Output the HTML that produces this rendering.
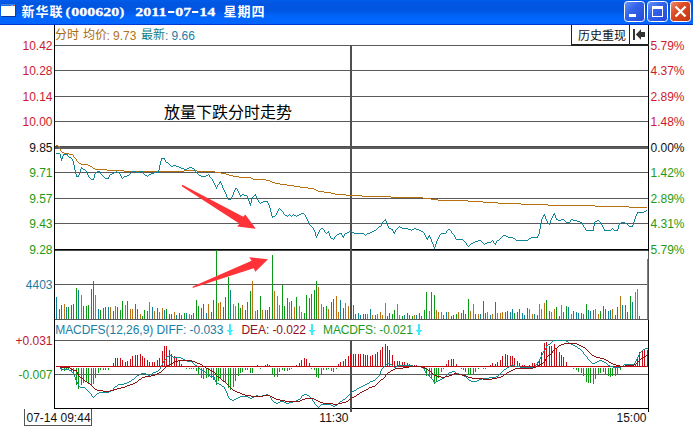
<!DOCTYPE html>
<html><head><meta charset="utf-8"><title>chart</title>
<style>
html,body{margin:0;padding:0;background:#fff;}
body{width:693px;height:427px;overflow:hidden;position:relative;font-family:"Liberation Sans", sans-serif;}
#tb{position:absolute;left:0;top:0;width:693px;height:25px;
background:linear-gradient(to bottom,#005ce8 0px,#005ce8 1px,#0055e1 3px,#0055e1 10px,#0062f5 15px,#0066ff 18px,#0066ff 23.5px,#0038d0 24px,#0038d0 25px);}
svg{position:absolute;left:0;top:0;}
text{white-space:pre;}
</style></head><body>
<div id="tb"></div>
<svg width="693" height="427" viewBox="0 0 693 427">
<defs>
<linearGradient id="gb" x1="0" y1="0" x2="1" y2="1"><stop offset="0" stop-color="#6a98f8"/><stop offset="0.4" stop-color="#3364ea"/><stop offset="1" stop-color="#2349d6"/></linearGradient>
<linearGradient id="gc" x1="0" y1="0" x2="1" y2="1"><stop offset="0" stop-color="#ee9070"/><stop offset="0.4" stop-color="#dc4a24"/><stop offset="1" stop-color="#c23410"/></linearGradient>
</defs>
<g shape-rendering="crispEdges">
<rect x="54" y="45" width="594" height="1" fill="#5a5a5a"/>
<rect x="54" y="70" width="594" height="1" fill="#5a5a5a"/>
<rect x="54" y="96" width="594" height="1" fill="#5a5a5a"/>
<rect x="54" y="121" width="594" height="1" fill="#5a5a5a"/>
<rect x="54" y="172" width="594" height="1" fill="#5a5a5a"/>
<rect x="54" y="198" width="594" height="1" fill="#5a5a5a"/>
<rect x="54" y="223" width="594" height="1" fill="#5a5a5a"/>
<rect x="54" y="146" width="595" height="3" fill="#5c5c5c"/>
<rect x="54" y="146" width="595" height="1" fill="#4e4e4e"/>
<rect x="54" y="249" width="595" height="1" fill="#000000"/>
<rect x="54" y="250" width="595" height="1" fill="#4a4a4a"/>
<rect x="54" y="284" width="594" height="1" fill="#5a5a5a"/>
<rect x="54" y="319" width="595" height="1" fill="#585858"/>
<rect x="54" y="340" width="594" height="1" fill="#5a5a5a"/>
<rect x="54" y="374" width="594" height="1" fill="#5a5a5a"/>
<rect x="54" y="408" width="595" height="1" fill="#000000"/>
<rect x="350" y="45" width="2" height="275" fill="#505050"/>
<rect x="350" y="340" width="2" height="72" fill="#505050"/>
<rect x="54" y="25" width="1" height="384" fill="#000000"/>
<rect x="648" y="25" width="1" height="226" fill="#000000"/>
<rect x="648" y="251" width="1" height="69" fill="#585858"/>
<rect x="648" y="320" width="1" height="92" fill="#000000"/>
<rect x="56" y="297" width="1" height="22" fill="#0d849a"/>
<rect x="59" y="309" width="1" height="10" fill="#0d849a"/>
<rect x="61" y="305" width="1" height="14" fill="#0c9a16"/>
<rect x="64" y="304" width="1" height="15" fill="#bc7212"/>
<rect x="66" y="307" width="1" height="12" fill="#0d849a"/>
<rect x="68" y="307" width="1" height="12" fill="#0c9a16"/>
<rect x="71" y="305" width="1" height="14" fill="#0c9a16"/>
<rect x="73" y="304" width="1" height="15" fill="#0c9a16"/>
<rect x="76" y="288" width="1" height="31" fill="#0c9a16"/>
<rect x="78" y="290" width="1" height="29" fill="#0d849a"/>
<rect x="81" y="295" width="1" height="24" fill="#bc7212"/>
<rect x="83" y="306" width="1" height="13" fill="#0c9a16"/>
<rect x="86" y="306" width="1" height="13" fill="#0c9a16"/>
<rect x="88" y="305" width="1" height="14" fill="#0c9a16"/>
<rect x="91" y="289" width="1" height="30" fill="#0c9a16"/>
<rect x="93" y="281" width="1" height="38" fill="#0d849a"/>
<rect x="95" y="295" width="1" height="24" fill="#bc7212"/>
<rect x="98" y="309" width="1" height="10" fill="#0d849a"/>
<rect x="100" y="310" width="1" height="9" fill="#0c9a16"/>
<rect x="103" y="308" width="1" height="11" fill="#0c9a16"/>
<rect x="105" y="307" width="1" height="12" fill="#0c9a16"/>
<rect x="108" y="307" width="1" height="12" fill="#0d849a"/>
<rect x="110" y="307" width="1" height="12" fill="#bc7212"/>
<rect x="113" y="311" width="1" height="8" fill="#0d849a"/>
<rect x="115" y="306" width="1" height="13" fill="#bc7212"/>
<rect x="117" y="307" width="1" height="12" fill="#0c9a16"/>
<rect x="120" y="310" width="1" height="9" fill="#0c9a16"/>
<rect x="122" y="301" width="1" height="18" fill="#0c9a16"/>
<rect x="125" y="305" width="1" height="14" fill="#bc7212"/>
<rect x="127" y="301" width="1" height="18" fill="#0d849a"/>
<rect x="130" y="309" width="1" height="10" fill="#bc7212"/>
<rect x="132" y="309" width="1" height="10" fill="#bc7212"/>
<rect x="135" y="304" width="1" height="15" fill="#0d849a"/>
<rect x="137" y="309" width="1" height="10" fill="#0c9a16"/>
<rect x="140" y="314" width="1" height="5" fill="#bc7212"/>
<rect x="142" y="316" width="1" height="3" fill="#0c9a16"/>
<rect x="144" y="310" width="1" height="9" fill="#0c9a16"/>
<rect x="147" y="311" width="1" height="8" fill="#0c9a16"/>
<rect x="149" y="302" width="1" height="17" fill="#bc7212"/>
<rect x="152" y="307" width="1" height="12" fill="#0d849a"/>
<rect x="154" y="311" width="1" height="8" fill="#bc7212"/>
<rect x="157" y="308" width="1" height="11" fill="#0d849a"/>
<rect x="159" y="312" width="1" height="7" fill="#bc7212"/>
<rect x="162" y="308" width="1" height="11" fill="#bc7212"/>
<rect x="164" y="310" width="1" height="9" fill="#0d849a"/>
<rect x="166" y="309" width="1" height="10" fill="#0c9a16"/>
<rect x="169" y="314" width="1" height="5" fill="#0c9a16"/>
<rect x="171" y="314" width="1" height="5" fill="#0c9a16"/>
<rect x="174" y="312" width="1" height="7" fill="#bc7212"/>
<rect x="176" y="315" width="1" height="4" fill="#0d849a"/>
<rect x="179" y="313" width="1" height="6" fill="#0c9a16"/>
<rect x="181" y="315" width="1" height="4" fill="#0d849a"/>
<rect x="184" y="313" width="1" height="6" fill="#0c9a16"/>
<rect x="186" y="313" width="1" height="6" fill="#0d849a"/>
<rect x="189" y="314" width="1" height="5" fill="#bc7212"/>
<rect x="191" y="315" width="1" height="4" fill="#0d849a"/>
<rect x="193" y="313" width="1" height="6" fill="#0c9a16"/>
<rect x="196" y="300" width="1" height="19" fill="#0c9a16"/>
<rect x="198" y="306" width="1" height="13" fill="#0c9a16"/>
<rect x="201" y="308" width="1" height="11" fill="#0c9a16"/>
<rect x="203" y="304" width="1" height="15" fill="#0d849a"/>
<rect x="206" y="313" width="1" height="6" fill="#0d849a"/>
<rect x="208" y="304" width="1" height="15" fill="#bc7212"/>
<rect x="211" y="312" width="1" height="7" fill="#0c9a16"/>
<rect x="213" y="300" width="1" height="19" fill="#0c9a16"/>
<rect x="216" y="250" width="1" height="69" fill="#0c9a16"/>
<rect x="218" y="303" width="1" height="16" fill="#bc7212"/>
<rect x="220" y="302" width="1" height="17" fill="#bc7212"/>
<rect x="223" y="307" width="1" height="12" fill="#0c9a16"/>
<rect x="225" y="297" width="1" height="22" fill="#0c9a16"/>
<rect x="228" y="277" width="1" height="42" fill="#0c9a16"/>
<rect x="230" y="290" width="1" height="29" fill="#0d849a"/>
<rect x="233" y="304" width="1" height="15" fill="#bc7212"/>
<rect x="235" y="306" width="1" height="13" fill="#bc7212"/>
<rect x="238" y="303" width="1" height="16" fill="#0c9a16"/>
<rect x="240" y="308" width="1" height="11" fill="#0c9a16"/>
<rect x="242" y="305" width="1" height="14" fill="#bc7212"/>
<rect x="245" y="310" width="1" height="9" fill="#0c9a16"/>
<rect x="247" y="302" width="1" height="17" fill="#0d849a"/>
<rect x="250" y="291" width="1" height="28" fill="#0c9a16"/>
<rect x="252" y="281" width="1" height="38" fill="#bc7212"/>
<rect x="255" y="311" width="1" height="8" fill="#bc7212"/>
<rect x="257" y="310" width="1" height="9" fill="#0c9a16"/>
<rect x="260" y="296" width="1" height="23" fill="#0c9a16"/>
<rect x="262" y="310" width="1" height="9" fill="#bc7212"/>
<rect x="265" y="310" width="1" height="9" fill="#0d849a"/>
<rect x="267" y="310" width="1" height="9" fill="#0d849a"/>
<rect x="269" y="307" width="1" height="12" fill="#0c9a16"/>
<rect x="272" y="255" width="1" height="64" fill="#0c9a16"/>
<rect x="274" y="291" width="1" height="28" fill="#bc7212"/>
<rect x="277" y="296" width="1" height="23" fill="#bc7212"/>
<rect x="279" y="305" width="1" height="14" fill="#bc7212"/>
<rect x="282" y="285" width="1" height="34" fill="#0c9a16"/>
<rect x="284" y="306" width="1" height="13" fill="#0c9a16"/>
<rect x="287" y="298" width="1" height="21" fill="#0c9a16"/>
<rect x="289" y="302" width="1" height="17" fill="#bc7212"/>
<rect x="291" y="301" width="1" height="18" fill="#0c9a16"/>
<rect x="294" y="307" width="1" height="12" fill="#bc7212"/>
<rect x="296" y="297" width="1" height="22" fill="#0c9a16"/>
<rect x="299" y="306" width="1" height="13" fill="#bc7212"/>
<rect x="301" y="312" width="1" height="7" fill="#bc7212"/>
<rect x="304" y="313" width="1" height="6" fill="#0c9a16"/>
<rect x="306" y="295" width="1" height="24" fill="#0c9a16"/>
<rect x="309" y="298" width="1" height="21" fill="#0c9a16"/>
<rect x="311" y="294" width="1" height="25" fill="#0c9a16"/>
<rect x="314" y="290" width="1" height="29" fill="#0c9a16"/>
<rect x="316" y="281" width="1" height="38" fill="#0c9a16"/>
<rect x="318" y="287" width="1" height="32" fill="#bc7212"/>
<rect x="321" y="304" width="1" height="15" fill="#bc7212"/>
<rect x="323" y="307" width="1" height="12" fill="#0d849a"/>
<rect x="326" y="306" width="1" height="13" fill="#0c9a16"/>
<rect x="328" y="309" width="1" height="10" fill="#bc7212"/>
<rect x="331" y="302" width="1" height="17" fill="#0c9a16"/>
<rect x="333" y="299" width="1" height="20" fill="#0d849a"/>
<rect x="336" y="296" width="1" height="23" fill="#bc7212"/>
<rect x="338" y="312" width="1" height="7" fill="#bc7212"/>
<rect x="340" y="300" width="1" height="19" fill="#0d849a"/>
<rect x="343" y="308" width="1" height="11" fill="#0c9a16"/>
<rect x="345" y="303" width="1" height="16" fill="#bc7212"/>
<rect x="348" y="306" width="1" height="13" fill="#bc7212"/>
<rect x="353" y="305" width="1" height="14" fill="#0c9a16"/>
<rect x="355" y="314" width="1" height="5" fill="#0d849a"/>
<rect x="358" y="313" width="1" height="6" fill="#0d849a"/>
<rect x="360" y="315" width="1" height="4" fill="#0d849a"/>
<rect x="363" y="314" width="1" height="5" fill="#0d849a"/>
<rect x="365" y="314" width="1" height="5" fill="#0c9a16"/>
<rect x="367" y="314" width="1" height="5" fill="#bc7212"/>
<rect x="370" y="309" width="1" height="10" fill="#0d849a"/>
<rect x="372" y="315" width="1" height="4" fill="#bc7212"/>
<rect x="375" y="315" width="1" height="4" fill="#0d849a"/>
<rect x="377" y="314" width="1" height="5" fill="#bc7212"/>
<rect x="380" y="312" width="1" height="7" fill="#bc7212"/>
<rect x="382" y="315" width="1" height="4" fill="#bc7212"/>
<rect x="385" y="303" width="1" height="16" fill="#bc7212"/>
<rect x="387" y="316" width="1" height="3" fill="#0c9a16"/>
<rect x="389" y="313" width="1" height="6" fill="#0c9a16"/>
<rect x="392" y="314" width="1" height="5" fill="#0c9a16"/>
<rect x="394" y="310" width="1" height="9" fill="#0c9a16"/>
<rect x="397" y="304" width="1" height="15" fill="#bc7212"/>
<rect x="399" y="315" width="1" height="4" fill="#bc7212"/>
<rect x="402" y="316" width="1" height="3" fill="#0c9a16"/>
<rect x="404" y="315" width="1" height="4" fill="#0d849a"/>
<rect x="407" y="313" width="1" height="6" fill="#0d849a"/>
<rect x="409" y="315" width="1" height="4" fill="#0d849a"/>
<rect x="412" y="316" width="1" height="3" fill="#0c9a16"/>
<rect x="414" y="315" width="1" height="4" fill="#bc7212"/>
<rect x="416" y="315" width="1" height="4" fill="#0d849a"/>
<rect x="419" y="313" width="1" height="6" fill="#0c9a16"/>
<rect x="421" y="316" width="1" height="3" fill="#0c9a16"/>
<rect x="424" y="310" width="1" height="9" fill="#0c9a16"/>
<rect x="426" y="292" width="1" height="27" fill="#0c9a16"/>
<rect x="429" y="311" width="1" height="8" fill="#bc7212"/>
<rect x="431" y="292" width="1" height="27" fill="#0c9a16"/>
<rect x="434" y="295" width="1" height="24" fill="#0c9a16"/>
<rect x="436" y="310" width="1" height="9" fill="#bc7212"/>
<rect x="438" y="312" width="1" height="7" fill="#bc7212"/>
<rect x="441" y="312" width="1" height="7" fill="#bc7212"/>
<rect x="443" y="315" width="1" height="4" fill="#0d849a"/>
<rect x="446" y="312" width="1" height="7" fill="#0d849a"/>
<rect x="448" y="312" width="1" height="7" fill="#bc7212"/>
<rect x="451" y="316" width="1" height="3" fill="#0c9a16"/>
<rect x="453" y="315" width="1" height="4" fill="#0c9a16"/>
<rect x="456" y="314" width="1" height="5" fill="#0c9a16"/>
<rect x="458" y="312" width="1" height="7" fill="#bc7212"/>
<rect x="461" y="313" width="1" height="6" fill="#0d849a"/>
<rect x="463" y="310" width="1" height="9" fill="#0c9a16"/>
<rect x="465" y="314" width="1" height="5" fill="#0c9a16"/>
<rect x="468" y="299" width="1" height="20" fill="#0c9a16"/>
<rect x="470" y="311" width="1" height="8" fill="#bc7212"/>
<rect x="473" y="304" width="1" height="15" fill="#bc7212"/>
<rect x="475" y="314" width="1" height="5" fill="#0d849a"/>
<rect x="478" y="314" width="1" height="5" fill="#bc7212"/>
<rect x="480" y="314" width="1" height="5" fill="#0d849a"/>
<rect x="483" y="301" width="1" height="18" fill="#0c9a16"/>
<rect x="485" y="313" width="1" height="6" fill="#0d849a"/>
<rect x="487" y="312" width="1" height="7" fill="#bc7212"/>
<rect x="490" y="315" width="1" height="4" fill="#0d849a"/>
<rect x="492" y="314" width="1" height="5" fill="#bc7212"/>
<rect x="495" y="302" width="1" height="17" fill="#0c9a16"/>
<rect x="497" y="313" width="1" height="6" fill="#bc7212"/>
<rect x="500" y="313" width="1" height="6" fill="#bc7212"/>
<rect x="502" y="312" width="1" height="7" fill="#bc7212"/>
<rect x="505" y="312" width="1" height="7" fill="#0d849a"/>
<rect x="507" y="311" width="1" height="8" fill="#0c9a16"/>
<rect x="510" y="312" width="1" height="7" fill="#0d849a"/>
<rect x="512" y="309" width="1" height="10" fill="#0d849a"/>
<rect x="514" y="313" width="1" height="6" fill="#0c9a16"/>
<rect x="517" y="312" width="1" height="7" fill="#0c9a16"/>
<rect x="519" y="309" width="1" height="10" fill="#0d849a"/>
<rect x="522" y="313" width="1" height="6" fill="#0d849a"/>
<rect x="524" y="315" width="1" height="4" fill="#0d849a"/>
<rect x="527" y="308" width="1" height="11" fill="#0d849a"/>
<rect x="529" y="309" width="1" height="10" fill="#bc7212"/>
<rect x="532" y="314" width="1" height="5" fill="#bc7212"/>
<rect x="534" y="314" width="1" height="5" fill="#0d849a"/>
<rect x="537" y="315" width="1" height="4" fill="#0d849a"/>
<rect x="539" y="304" width="1" height="15" fill="#bc7212"/>
<rect x="541" y="309" width="1" height="10" fill="#bc7212"/>
<rect x="544" y="303" width="1" height="16" fill="#bc7212"/>
<rect x="546" y="300" width="1" height="19" fill="#0c9a16"/>
<rect x="549" y="311" width="1" height="8" fill="#0c9a16"/>
<rect x="551" y="312" width="1" height="7" fill="#bc7212"/>
<rect x="554" y="309" width="1" height="10" fill="#bc7212"/>
<rect x="556" y="307" width="1" height="12" fill="#0c9a16"/>
<rect x="559" y="316" width="1" height="3" fill="#0c9a16"/>
<rect x="561" y="305" width="1" height="14" fill="#bc7212"/>
<rect x="563" y="312" width="1" height="7" fill="#0d849a"/>
<rect x="566" y="306" width="1" height="13" fill="#0c9a16"/>
<rect x="568" y="307" width="1" height="12" fill="#0d849a"/>
<rect x="571" y="314" width="1" height="5" fill="#bc7212"/>
<rect x="573" y="311" width="1" height="8" fill="#0c9a16"/>
<rect x="576" y="312" width="1" height="7" fill="#0d849a"/>
<rect x="578" y="313" width="1" height="6" fill="#0d849a"/>
<rect x="581" y="313" width="1" height="6" fill="#0c9a16"/>
<rect x="583" y="314" width="1" height="5" fill="#0c9a16"/>
<rect x="586" y="304" width="1" height="15" fill="#0c9a16"/>
<rect x="588" y="310" width="1" height="9" fill="#0d849a"/>
<rect x="590" y="311" width="1" height="8" fill="#0d849a"/>
<rect x="593" y="310" width="1" height="9" fill="#0d849a"/>
<rect x="595" y="309" width="1" height="10" fill="#bc7212"/>
<rect x="598" y="314" width="1" height="5" fill="#bc7212"/>
<rect x="600" y="311" width="1" height="8" fill="#0c9a16"/>
<rect x="603" y="306" width="1" height="13" fill="#0c9a16"/>
<rect x="605" y="309" width="1" height="10" fill="#0c9a16"/>
<rect x="608" y="311" width="1" height="8" fill="#0d849a"/>
<rect x="610" y="310" width="1" height="9" fill="#0d849a"/>
<rect x="612" y="309" width="1" height="10" fill="#bc7212"/>
<rect x="615" y="315" width="1" height="4" fill="#0c9a16"/>
<rect x="617" y="307" width="1" height="12" fill="#0d849a"/>
<rect x="620" y="296" width="1" height="23" fill="#bc7212"/>
<rect x="622" y="305" width="1" height="14" fill="#0d849a"/>
<rect x="625" y="305" width="1" height="14" fill="#0d849a"/>
<rect x="627" y="312" width="1" height="7" fill="#0c9a16"/>
<rect x="630" y="296" width="1" height="23" fill="#0c9a16"/>
<rect x="632" y="302" width="1" height="17" fill="#0d849a"/>
<rect x="635" y="292" width="1" height="27" fill="#bc7212"/>
<rect x="637" y="289" width="1" height="30" fill="#bc7212"/>
<rect x="639" y="316" width="1" height="3" fill="#0d849a"/>
<rect x="647" y="259" width="1" height="60" fill="#bc7212"/>
<rect x="61" y="368" width="1" height="3" fill="#0c9a16"/>
<rect x="64" y="368" width="1" height="3" fill="#0c9a16"/>
<rect x="66" y="368" width="1" height="2" fill="#0c9a16"/>
<rect x="68" y="368" width="1" height="2" fill="#0c9a16"/>
<rect x="71" y="368" width="1" height="4" fill="#0c9a16"/>
<rect x="73" y="368" width="1" height="5" fill="#0c9a16"/>
<rect x="76" y="368" width="1" height="17" fill="#0c9a16"/>
<rect x="78" y="368" width="1" height="21" fill="#0c9a16"/>
<rect x="81" y="368" width="1" height="17" fill="#0c9a16"/>
<rect x="83" y="368" width="1" height="15" fill="#0c9a16"/>
<rect x="86" y="368" width="1" height="14" fill="#0c9a16"/>
<rect x="88" y="368" width="1" height="15" fill="#0c9a16"/>
<rect x="91" y="368" width="1" height="17" fill="#0c9a16"/>
<rect x="93" y="368" width="1" height="16" fill="#0c9a16"/>
<rect x="95" y="368" width="1" height="10" fill="#0c9a16"/>
<rect x="98" y="368" width="1" height="5" fill="#0c9a16"/>
<rect x="100" y="368" width="1" height="2" fill="#0c9a16"/>
<rect x="103" y="368" width="1" height="2" fill="#0c9a16"/>
<rect x="105" y="368" width="1" height="2" fill="#0c9a16"/>
<rect x="108" y="368" width="1" height="2" fill="#0c9a16"/>
<rect x="113" y="363" width="1" height="4" fill="#c80c16"/>
<rect x="115" y="358" width="1" height="9" fill="#c80c16"/>
<rect x="117" y="358" width="1" height="9" fill="#c80c16"/>
<rect x="120" y="358" width="1" height="9" fill="#c80c16"/>
<rect x="122" y="360" width="1" height="7" fill="#c80c16"/>
<rect x="125" y="362" width="1" height="5" fill="#c80c16"/>
<rect x="127" y="361" width="1" height="6" fill="#c80c16"/>
<rect x="130" y="359" width="1" height="8" fill="#c80c16"/>
<rect x="132" y="356" width="1" height="11" fill="#c80c16"/>
<rect x="135" y="355" width="1" height="12" fill="#c80c16"/>
<rect x="137" y="355" width="1" height="12" fill="#c80c16"/>
<rect x="140" y="354" width="1" height="13" fill="#c80c16"/>
<rect x="142" y="356" width="1" height="11" fill="#c80c16"/>
<rect x="144" y="358" width="1" height="9" fill="#c80c16"/>
<rect x="147" y="360" width="1" height="7" fill="#c80c16"/>
<rect x="149" y="362" width="1" height="5" fill="#c80c16"/>
<rect x="152" y="362" width="1" height="5" fill="#c80c16"/>
<rect x="154" y="362" width="1" height="5" fill="#c80c16"/>
<rect x="157" y="360" width="1" height="7" fill="#c80c16"/>
<rect x="159" y="358" width="1" height="9" fill="#c80c16"/>
<rect x="162" y="351" width="1" height="16" fill="#c80c16"/>
<rect x="164" y="346" width="1" height="21" fill="#c80c16"/>
<rect x="166" y="346" width="1" height="21" fill="#c80c16"/>
<rect x="169" y="350" width="1" height="17" fill="#c80c16"/>
<rect x="171" y="354" width="1" height="13" fill="#c80c16"/>
<rect x="174" y="356" width="1" height="11" fill="#c80c16"/>
<rect x="176" y="358" width="1" height="9" fill="#c80c16"/>
<rect x="179" y="360" width="1" height="7" fill="#c80c16"/>
<rect x="181" y="364" width="1" height="3" fill="#c80c16"/>
<rect x="186" y="368" width="1" height="1" fill="#0c9a16"/>
<rect x="189" y="368" width="1" height="1" fill="#0c9a16"/>
<rect x="191" y="368" width="1" height="1" fill="#0c9a16"/>
<rect x="193" y="368" width="1" height="1" fill="#0c9a16"/>
<rect x="196" y="368" width="1" height="3" fill="#0c9a16"/>
<rect x="198" y="368" width="1" height="7" fill="#0c9a16"/>
<rect x="201" y="368" width="1" height="10" fill="#0c9a16"/>
<rect x="203" y="368" width="1" height="11" fill="#0c9a16"/>
<rect x="206" y="368" width="1" height="10" fill="#0c9a16"/>
<rect x="208" y="368" width="1" height="9" fill="#0c9a16"/>
<rect x="211" y="368" width="1" height="10" fill="#0c9a16"/>
<rect x="213" y="368" width="1" height="12" fill="#0c9a16"/>
<rect x="216" y="368" width="1" height="17" fill="#0c9a16"/>
<rect x="218" y="368" width="1" height="13" fill="#0c9a16"/>
<rect x="220" y="368" width="1" height="11" fill="#0c9a16"/>
<rect x="223" y="368" width="1" height="13" fill="#0c9a16"/>
<rect x="225" y="368" width="1" height="15" fill="#0c9a16"/>
<rect x="228" y="368" width="1" height="20" fill="#0c9a16"/>
<rect x="230" y="368" width="1" height="22" fill="#0c9a16"/>
<rect x="233" y="368" width="1" height="19" fill="#0c9a16"/>
<rect x="235" y="368" width="1" height="13" fill="#0c9a16"/>
<rect x="238" y="368" width="1" height="8" fill="#0c9a16"/>
<rect x="240" y="368" width="1" height="5" fill="#0c9a16"/>
<rect x="242" y="368" width="1" height="4" fill="#0c9a16"/>
<rect x="245" y="368" width="1" height="2" fill="#0c9a16"/>
<rect x="247" y="368" width="1" height="2" fill="#0c9a16"/>
<rect x="250" y="368" width="1" height="5" fill="#0c9a16"/>
<rect x="252" y="368" width="1" height="5" fill="#0c9a16"/>
<rect x="257" y="365" width="1" height="2" fill="#c80c16"/>
<rect x="260" y="368" width="1" height="1" fill="#0c9a16"/>
<rect x="265" y="365" width="1" height="2" fill="#c80c16"/>
<rect x="267" y="364" width="1" height="3" fill="#c80c16"/>
<rect x="269" y="365" width="1" height="2" fill="#c80c16"/>
<rect x="272" y="368" width="1" height="6" fill="#0c9a16"/>
<rect x="274" y="368" width="1" height="9" fill="#0c9a16"/>
<rect x="277" y="368" width="1" height="9" fill="#0c9a16"/>
<rect x="279" y="368" width="1" height="4" fill="#0c9a16"/>
<rect x="282" y="368" width="1" height="2" fill="#0c9a16"/>
<rect x="284" y="368" width="1" height="3" fill="#0c9a16"/>
<rect x="287" y="368" width="1" height="3" fill="#0c9a16"/>
<rect x="289" y="368" width="1" height="2" fill="#0c9a16"/>
<rect x="291" y="368" width="1" height="1" fill="#0c9a16"/>
<rect x="296" y="365" width="1" height="2" fill="#c80c16"/>
<rect x="299" y="363" width="1" height="4" fill="#c80c16"/>
<rect x="301" y="360" width="1" height="7" fill="#c80c16"/>
<rect x="304" y="358" width="1" height="9" fill="#c80c16"/>
<rect x="306" y="359" width="1" height="8" fill="#c80c16"/>
<rect x="309" y="363" width="1" height="4" fill="#c80c16"/>
<rect x="311" y="368" width="1" height="1" fill="#0c9a16"/>
<rect x="314" y="368" width="1" height="2" fill="#0c9a16"/>
<rect x="316" y="368" width="1" height="9" fill="#0c9a16"/>
<rect x="318" y="368" width="1" height="10" fill="#0c9a16"/>
<rect x="321" y="368" width="1" height="6" fill="#0c9a16"/>
<rect x="323" y="368" width="1" height="2" fill="#0c9a16"/>
<rect x="326" y="368" width="1" height="2" fill="#0c9a16"/>
<rect x="328" y="368" width="1" height="1" fill="#0c9a16"/>
<rect x="331" y="368" width="1" height="3" fill="#0c9a16"/>
<rect x="333" y="368" width="1" height="4" fill="#0c9a16"/>
<rect x="336" y="368" width="1" height="1" fill="#0c9a16"/>
<rect x="338" y="364" width="1" height="3" fill="#c80c16"/>
<rect x="340" y="362" width="1" height="5" fill="#c80c16"/>
<rect x="343" y="361" width="1" height="6" fill="#c80c16"/>
<rect x="345" y="359" width="1" height="8" fill="#c80c16"/>
<rect x="348" y="356" width="1" height="11" fill="#c80c16"/>
<rect x="350" y="354" width="1" height="13" fill="#c80c16"/>
<rect x="353" y="354" width="1" height="13" fill="#c80c16"/>
<rect x="355" y="354" width="1" height="13" fill="#c80c16"/>
<rect x="358" y="354" width="1" height="13" fill="#c80c16"/>
<rect x="360" y="354" width="1" height="13" fill="#c80c16"/>
<rect x="363" y="354" width="1" height="13" fill="#c80c16"/>
<rect x="365" y="355" width="1" height="12" fill="#c80c16"/>
<rect x="367" y="355" width="1" height="12" fill="#c80c16"/>
<rect x="370" y="356" width="1" height="11" fill="#c80c16"/>
<rect x="372" y="355" width="1" height="12" fill="#c80c16"/>
<rect x="375" y="354" width="1" height="13" fill="#c80c16"/>
<rect x="377" y="352" width="1" height="15" fill="#c80c16"/>
<rect x="380" y="350" width="1" height="17" fill="#c80c16"/>
<rect x="382" y="347" width="1" height="20" fill="#c80c16"/>
<rect x="385" y="344" width="1" height="23" fill="#c80c16"/>
<rect x="387" y="346" width="1" height="21" fill="#c80c16"/>
<rect x="389" y="350" width="1" height="17" fill="#c80c16"/>
<rect x="392" y="355" width="1" height="12" fill="#c80c16"/>
<rect x="394" y="361" width="1" height="6" fill="#c80c16"/>
<rect x="397" y="361" width="1" height="6" fill="#c80c16"/>
<rect x="399" y="361" width="1" height="6" fill="#c80c16"/>
<rect x="402" y="362" width="1" height="5" fill="#c80c16"/>
<rect x="404" y="362" width="1" height="5" fill="#c80c16"/>
<rect x="407" y="363" width="1" height="4" fill="#c80c16"/>
<rect x="409" y="364" width="1" height="3" fill="#c80c16"/>
<rect x="412" y="365" width="1" height="2" fill="#c80c16"/>
<rect x="414" y="365" width="1" height="2" fill="#c80c16"/>
<rect x="416" y="365" width="1" height="2" fill="#c80c16"/>
<rect x="424" y="368" width="1" height="2" fill="#0c9a16"/>
<rect x="426" y="368" width="1" height="8" fill="#0c9a16"/>
<rect x="429" y="368" width="1" height="8" fill="#0c9a16"/>
<rect x="431" y="368" width="1" height="11" fill="#0c9a16"/>
<rect x="434" y="368" width="1" height="16" fill="#0c9a16"/>
<rect x="436" y="368" width="1" height="13" fill="#0c9a16"/>
<rect x="438" y="368" width="1" height="10" fill="#0c9a16"/>
<rect x="441" y="368" width="1" height="4" fill="#0c9a16"/>
<rect x="443" y="368" width="1" height="1" fill="#0c9a16"/>
<rect x="446" y="364" width="1" height="3" fill="#c80c16"/>
<rect x="448" y="360" width="1" height="7" fill="#c80c16"/>
<rect x="451" y="359" width="1" height="8" fill="#c80c16"/>
<rect x="453" y="359" width="1" height="8" fill="#c80c16"/>
<rect x="456" y="364" width="1" height="3" fill="#c80c16"/>
<rect x="461" y="368" width="1" height="1" fill="#0c9a16"/>
<rect x="463" y="368" width="1" height="2" fill="#0c9a16"/>
<rect x="465" y="368" width="1" height="4" fill="#0c9a16"/>
<rect x="468" y="368" width="1" height="7" fill="#0c9a16"/>
<rect x="470" y="368" width="1" height="7" fill="#0c9a16"/>
<rect x="473" y="368" width="1" height="6" fill="#0c9a16"/>
<rect x="475" y="368" width="1" height="4" fill="#0c9a16"/>
<rect x="478" y="368" width="1" height="1" fill="#0c9a16"/>
<rect x="483" y="368" width="1" height="1" fill="#0c9a16"/>
<rect x="485" y="368" width="1" height="1" fill="#0c9a16"/>
<rect x="490" y="365" width="1" height="2" fill="#c80c16"/>
<rect x="492" y="363" width="1" height="4" fill="#c80c16"/>
<rect x="495" y="364" width="1" height="3" fill="#c80c16"/>
<rect x="497" y="362" width="1" height="5" fill="#c80c16"/>
<rect x="500" y="360" width="1" height="7" fill="#c80c16"/>
<rect x="502" y="356" width="1" height="11" fill="#c80c16"/>
<rect x="505" y="354" width="1" height="13" fill="#c80c16"/>
<rect x="507" y="355" width="1" height="12" fill="#c80c16"/>
<rect x="510" y="356" width="1" height="11" fill="#c80c16"/>
<rect x="512" y="356" width="1" height="11" fill="#c80c16"/>
<rect x="514" y="358" width="1" height="9" fill="#c80c16"/>
<rect x="517" y="361" width="1" height="6" fill="#c80c16"/>
<rect x="519" y="363" width="1" height="4" fill="#c80c16"/>
<rect x="522" y="365" width="1" height="2" fill="#c80c16"/>
<rect x="524" y="365" width="1" height="2" fill="#c80c16"/>
<rect x="529" y="365" width="1" height="2" fill="#c80c16"/>
<rect x="532" y="363" width="1" height="4" fill="#c80c16"/>
<rect x="534" y="363" width="1" height="4" fill="#c80c16"/>
<rect x="537" y="362" width="1" height="5" fill="#c80c16"/>
<rect x="539" y="359" width="1" height="8" fill="#c80c16"/>
<rect x="541" y="352" width="1" height="15" fill="#c80c16"/>
<rect x="544" y="343" width="1" height="24" fill="#c80c16"/>
<rect x="546" y="342" width="1" height="25" fill="#c80c16"/>
<rect x="549" y="346" width="1" height="21" fill="#c80c16"/>
<rect x="551" y="346" width="1" height="21" fill="#c80c16"/>
<rect x="554" y="344" width="1" height="23" fill="#c80c16"/>
<rect x="556" y="348" width="1" height="19" fill="#c80c16"/>
<rect x="559" y="352" width="1" height="15" fill="#c80c16"/>
<rect x="561" y="355" width="1" height="12" fill="#c80c16"/>
<rect x="563" y="357" width="1" height="10" fill="#c80c16"/>
<rect x="566" y="362" width="1" height="5" fill="#c80c16"/>
<rect x="573" y="368" width="1" height="1" fill="#0c9a16"/>
<rect x="576" y="368" width="1" height="2" fill="#0c9a16"/>
<rect x="578" y="368" width="1" height="4" fill="#0c9a16"/>
<rect x="581" y="368" width="1" height="5" fill="#0c9a16"/>
<rect x="583" y="368" width="1" height="8" fill="#0c9a16"/>
<rect x="586" y="368" width="1" height="14" fill="#0c9a16"/>
<rect x="588" y="368" width="1" height="15" fill="#0c9a16"/>
<rect x="590" y="368" width="1" height="15" fill="#0c9a16"/>
<rect x="593" y="368" width="1" height="16" fill="#0c9a16"/>
<rect x="595" y="368" width="1" height="11" fill="#0c9a16"/>
<rect x="598" y="368" width="1" height="6" fill="#0c9a16"/>
<rect x="600" y="368" width="1" height="5" fill="#0c9a16"/>
<rect x="603" y="368" width="1" height="4" fill="#0c9a16"/>
<rect x="605" y="368" width="1" height="6" fill="#0c9a16"/>
<rect x="608" y="368" width="1" height="8" fill="#0c9a16"/>
<rect x="610" y="368" width="1" height="9" fill="#0c9a16"/>
<rect x="612" y="368" width="1" height="8" fill="#0c9a16"/>
<rect x="615" y="368" width="1" height="8" fill="#0c9a16"/>
<rect x="617" y="368" width="1" height="6" fill="#0c9a16"/>
<rect x="620" y="368" width="1" height="2" fill="#0c9a16"/>
<rect x="625" y="365" width="1" height="2" fill="#c80c16"/>
<rect x="627" y="365" width="1" height="2" fill="#c80c16"/>
<rect x="630" y="365" width="1" height="2" fill="#c80c16"/>
<rect x="632" y="365" width="1" height="2" fill="#c80c16"/>
<rect x="635" y="364" width="1" height="3" fill="#c80c16"/>
<rect x="637" y="357" width="1" height="10" fill="#c80c16"/>
<rect x="639" y="352" width="1" height="15" fill="#c80c16"/>
<rect x="642" y="351" width="1" height="16" fill="#c80c16"/>
<rect x="644" y="350" width="1" height="17" fill="#c80c16"/>
<rect x="647" y="350" width="1" height="17" fill="#c80c16"/>
<rect x="56" y="366" width="592" height="1" fill="#c00c14"/>
</g>
<path d="M56 145h2v1h-2zM58 146h1v1h-1zM59 146h1v3h-1zM60 149h1v2h-1zM61 151h1v1h-1zM62 152h2v1h-2zM64 153h5v1h-5zM69 154h4v1h-4zM73 155h1v2h-1zM74 157h1v1h-1zM75 158h1v1h-1zM76 159h1v2h-1zM77 161h1v1h-1zM78 162h1v1h-1zM79 163h2v1h-2zM81 164h7v1h-7zM88 165h2v1h-2zM90 166h2v1h-2zM92 167h1v1h-1zM93 168h2v1h-2zM95 169h12v1h-12zM107 170h17v1h-17zM124 171h60v1h-60zM184 170h13v1h-13zM197 171h18v1h-18zM215 172h6v1h-6zM221 173h5v1h-5zM226 174h3v1h-3zM229 175h4v1h-4zM233 176h6v1h-6zM239 177h12v1h-12zM251 178h2v1h-2zM253 179h13v1h-13zM266 180h4v1h-4zM270 181h2v1h-2zM272 182h3v1h-3zM275 183h5v1h-5zM280 184h7v1h-7zM287 185h7v1h-7zM294 186h6v1h-6zM300 187h8v1h-8zM308 188h6v1h-6zM314 189h2v1h-2zM316 190h2v1h-2zM318 191h6v1h-6zM324 192h7v1h-7zM331 193h4v1h-4zM335 194h11v1h-11zM346 195h16v1h-16zM362 196h29v1h-29zM391 197h32v1h-32zM423 198h8v1h-8zM431 199h7v1h-7zM438 200h30v1h-30zM468 201h15v1h-15zM483 202h15v1h-15zM498 203h23v1h-23zM521 204h27v1h-27zM548 205h47v1h-47zM595 206h34v1h-34zM629 207h18v1h-18z" fill="#b8700f" shape-rendering="crispEdges"/>
<path d="M56 153h4v1h-4zM60 154h1v4h-1zM61 158h1v3h-1zM62 156h1v3h-1zM63 154h1v2h-1zM64 154h3v1h-3zM67 154h1v2h-1zM68 156h1v1h-1zM69 157h2v1h-2zM71 158h1v1h-1zM72 159h1v2h-1zM73 161h1v4h-1zM74 165h1v5h-1zM75 170h1v4h-1zM76 174h1v3h-1zM77 176h1v1h-1zM78 175h1v2h-1zM79 172h1v3h-1zM80 169h1v3h-1zM81 167h1v2h-1zM82 168h1v1h-1zM83 169h2v1h-2zM85 170h1v1h-1zM86 171h1v2h-1zM87 173h1v2h-1zM88 175h1v2h-1zM89 177h1v1h-1zM90 178h1v1h-1zM91 179h2v1h-2zM93 178h1v2h-1zM94 174h1v4h-1zM95 172h1v2h-1zM96 172h1v1h-1zM97 171h3v1h-3zM100 172h1v2h-1zM101 174h1v1h-1zM102 175h1v1h-1zM103 176h1v1h-1zM104 177h1v1h-1zM105 178h3v1h-3zM108 177h1v2h-1zM109 175h1v2h-1zM110 174h2v1h-2zM112 173h2v1h-2zM114 172h2v1h-2zM116 171h1v1h-1zM117 172h2v1h-2zM119 173h1v1h-1zM120 174h1v2h-1zM121 176h1v2h-1zM122 178h1v1h-1zM123 177h1v1h-1zM124 176h3v1h-3zM127 175h2v1h-2zM129 174h1v1h-1zM130 173h1v1h-1zM131 172h1v1h-1zM132 171h4v1h-4zM136 172h3v1h-3zM139 171h4v1h-4zM143 172h1v2h-1zM144 174h1v1h-1zM145 175h2v1h-2zM147 176h1v1h-1zM148 175h1v1h-1zM149 174h2v1h-2zM151 173h3v1h-3zM154 172h4v1h-4zM158 170h1v3h-1zM159 165h1v5h-1zM160 161h1v4h-1zM161 158h1v3h-1zM162 158h2v1h-2zM164 158h1v2h-1zM165 160h1v2h-1zM166 162h2v1h-2zM168 163h1v1h-1zM169 164h1v1h-1zM170 165h1v1h-1zM171 166h2v1h-2zM173 165h3v1h-3zM176 166h3v1h-3zM179 167h2v1h-2zM181 168h3v1h-3zM184 169h3v1h-3zM187 168h2v1h-2zM189 167h3v1h-3zM192 168h2v1h-2zM194 169h1v2h-1zM195 171h1v1h-1zM196 172h1v1h-1zM197 173h1v1h-1zM198 174h1v1h-1zM199 175h2v1h-2zM201 176h5v1h-5zM206 175h2v1h-2zM208 174h1v1h-1zM209 175h1v2h-1zM210 177h1v1h-1zM211 178h1v1h-1zM212 179h1v2h-1zM213 181h1v2h-1zM214 183h1v2h-1zM215 185h1v2h-1zM216 187h1v2h-1zM217 185h1v2h-1zM218 184h1v1h-1zM219 182h1v2h-1zM220 181h1v2h-1zM221 183h1v2h-1zM222 185h1v3h-1zM223 188h1v2h-1zM224 190h1v2h-1zM225 192h1v2h-1zM226 194h1v3h-1zM227 197h1v2h-1zM228 199h3v1h-3zM231 197h1v2h-1zM232 195h1v2h-1zM233 192h1v3h-1zM234 190h1v2h-1zM235 188h1v2h-1zM236 188h1v1h-1zM237 189h1v2h-1zM238 191h1v2h-1zM239 193h1v2h-1zM240 195h1v2h-1zM241 195h1v1h-1zM242 194h2v1h-2zM244 195h3v1h-3zM247 196h1v2h-1zM248 198h1v3h-1zM249 201h1v3h-1zM250 203h1v3h-1zM251 199h1v4h-1zM252 197h1v2h-1zM253 196h1v1h-1zM254 195h1v1h-1zM255 194h1v2h-1zM256 196h1v2h-1zM257 198h1v2h-1zM258 200h1v2h-1zM259 202h1v1h-1zM260 203h1v1h-1zM261 202h2v1h-2zM263 201h4v1h-4zM267 201h1v2h-1zM268 203h1v2h-1zM269 205h1v3h-1zM270 208h1v4h-1zM271 212h1v4h-1zM272 216h1v2h-1zM273 216h2v1h-2zM275 215h1v1h-1zM276 213h1v2h-1zM277 211h1v2h-1zM278 209h1v2h-1zM279 208h1v1h-1zM280 209h1v1h-1zM281 210h1v1h-1zM282 211h1v1h-1zM283 212h1v2h-1zM284 214h1v1h-1zM285 215h2v1h-2zM287 216h1v1h-1zM288 215h1v1h-1zM289 214h1v1h-1zM290 215h1v1h-1zM291 216h1v1h-1zM292 215h1v1h-1zM293 214h1v1h-1zM294 215h2v1h-2zM296 216h1v1h-1zM297 215h2v1h-2zM299 214h2v1h-2zM301 213h3v1h-3zM304 214h1v1h-1zM305 215h1v2h-1zM306 217h1v2h-1zM307 219h1v2h-1zM308 221h1v2h-1zM309 223h1v2h-1zM310 225h1v1h-1zM311 226h1v1h-1zM312 227h1v1h-1zM313 228h1v2h-1zM314 230h1v2h-1zM315 232h1v4h-1zM316 236h1v2h-1zM317 234h1v2h-1zM318 232h1v2h-1zM319 230h1v2h-1zM320 229h1v1h-1zM321 228h2v1h-2zM323 229h1v1h-1zM324 230h1v2h-1zM325 232h1v1h-1zM326 233h1v1h-1zM327 232h1v1h-1zM328 231h1v2h-1zM329 233h1v3h-1zM330 236h1v2h-1zM331 238h2v1h-2zM333 239h1v1h-1zM334 237h1v2h-1zM335 236h1v1h-1zM336 235h1v1h-1zM337 234h2v1h-2zM339 233h2v1h-2zM341 233h1v2h-1zM342 235h1v2h-1zM343 236h1v2h-1zM344 234h1v2h-1zM345 233h2v1h-2zM347 232h2v1h-2zM349 231h3v1h-3zM352 232h2v1h-2zM354 233h10v1h-10zM364 234h1v1h-1zM365 235h1v1h-1zM366 234h1v1h-1zM367 233h3v1h-3zM370 232h2v1h-2zM372 231h2v1h-2zM374 230h2v1h-2zM376 229h1v1h-1zM377 228h1v1h-1zM378 227h1v1h-1zM379 226h2v1h-2zM381 224h1v2h-1zM382 222h1v2h-1zM383 221h1v1h-1zM384 220h1v1h-1zM385 219h1v2h-1zM386 221h1v3h-1zM387 224h1v2h-1zM388 226h1v2h-1zM389 228h2v1h-2zM391 229h1v1h-1zM392 229h1v2h-1zM393 231h1v2h-1zM394 232h1v2h-1zM395 230h1v2h-1zM396 229h1v1h-1zM397 228h1v1h-1zM398 227h1v1h-1zM399 226h1v1h-1zM400 227h2v1h-2zM402 228h6v1h-6zM408 229h3v1h-3zM411 230h1v1h-1zM412 229h2v1h-2zM414 228h2v1h-2zM416 229h3v1h-3zM419 230h2v1h-2zM421 231h2v1h-2zM423 232h1v1h-1zM424 233h1v2h-1zM425 235h1v2h-1zM426 237h1v2h-1zM427 238h1v2h-1zM428 236h1v2h-1zM429 235h1v2h-1zM430 237h1v2h-1zM431 239h1v3h-1zM432 242h1v2h-1zM433 244h1v3h-1zM434 247h1v2h-1zM435 244h1v3h-1zM436 241h1v3h-1zM437 239h1v2h-1zM438 237h1v2h-1zM439 235h1v2h-1zM440 234h1v1h-1zM441 233h5v1h-5zM446 231h1v2h-1zM447 230h1v1h-1zM448 229h2v1h-2zM450 230h1v1h-1zM451 231h1v2h-1zM452 233h1v1h-1zM453 234h1v1h-1zM454 235h1v2h-1zM455 237h1v2h-1zM456 239h7v1h-7zM463 240h1v1h-1zM464 241h1v1h-1zM465 242h1v1h-1zM466 243h1v2h-1zM467 245h1v1h-1zM468 246h1v1h-1zM469 245h1v1h-1zM470 244h1v1h-1zM471 243h2v1h-2zM473 242h2v1h-2zM475 241h3v1h-3zM478 240h3v1h-3zM481 241h1v1h-1zM482 242h1v1h-1zM483 243h1v1h-1zM484 244h1v1h-1zM485 243h2v1h-2zM487 242h4v1h-4zM491 241h1v1h-1zM492 240h1v1h-1zM493 241h1v2h-1zM494 243h1v1h-1zM495 243h1v2h-1zM496 241h1v2h-1zM497 240h2v1h-2zM499 239h1v1h-1zM500 238h1v1h-1zM501 237h1v1h-1zM502 236h1v1h-1zM503 235h3v1h-3zM506 236h2v1h-2zM508 237h5v1h-5zM513 238h2v1h-2zM515 239h1v1h-1zM516 240h12v1h-12zM528 239h1v1h-1zM529 238h2v1h-2zM531 237h6v1h-6zM537 236h1v2h-1zM538 234h1v2h-1zM539 229h1v5h-1zM540 223h1v6h-1zM541 219h1v4h-1zM542 217h1v2h-1zM543 215h1v2h-1zM544 214h1v2h-1zM545 216h1v3h-1zM546 219h1v2h-1zM547 221h1v2h-1zM548 223h1v1h-1zM549 223h1v2h-1zM550 220h1v3h-1zM551 218h1v2h-1zM552 216h1v2h-1zM553 214h1v2h-1zM554 213h1v2h-1zM555 215h1v3h-1zM556 218h1v2h-1zM557 219h1v1h-1zM558 220h3v1h-3zM561 219h3v1h-3zM564 220h1v1h-1zM565 221h1v1h-1zM566 222h4v1h-4zM570 220h1v2h-1zM571 219h2v1h-2zM573 220h4v1h-4zM577 221h3v1h-3zM580 222h2v1h-2zM582 223h1v2h-1zM583 225h1v2h-1zM584 227h1v1h-1zM585 228h1v2h-1zM586 230h7v1h-7zM593 226h1v5h-1zM594 222h1v4h-1zM595 221h2v1h-2zM597 220h2v1h-2zM599 221h1v1h-1zM600 222h1v2h-1zM601 224h1v1h-1zM602 225h1v2h-1zM603 227h1v2h-1zM604 229h1v2h-1zM605 230h6v1h-6zM611 229h1v1h-1zM612 228h1v1h-1zM613 229h1v1h-1zM614 230h3v1h-3zM617 229h1v2h-1zM618 225h1v4h-1zM619 223h1v2h-1zM620 223h1v1h-1zM621 222h4v1h-4zM625 223h2v1h-2zM627 224h1v1h-1zM628 225h1v1h-1zM629 226h3v1h-3zM632 225h1v2h-1zM633 222h1v3h-1zM634 219h1v3h-1zM635 216h1v3h-1zM636 214h1v2h-1zM637 212h1v2h-1zM638 212h6v1h-6zM644 211h2v1h-2zM646 210h1v1h-1z" fill="#0e8598" shape-rendering="crispEdges"/>
<path d="M60 367h1v2h-1zM61 369h8v1h-8zM69 370h2v1h-2zM71 371h1v1h-1zM72 372h1v1h-1zM73 373h1v2h-1zM74 375h1v2h-1zM75 377h1v3h-1zM76 380h1v2h-1zM77 382h1v2h-1zM78 384h1v2h-1zM79 386h1v1h-1zM80 387h5v1h-5zM85 388h1v1h-1zM86 389h1v1h-1zM87 390h1v1h-1zM88 391h1v1h-1zM89 392h1v1h-1zM90 393h1v1h-1zM91 394h1v2h-1zM92 396h1v1h-1zM93 397h1v1h-1zM94 396h1v1h-1zM95 395h1v1h-1zM96 394h1v1h-1zM97 393h2v1h-2zM99 392h10v1h-10zM109 391h2v1h-2zM111 390h2v1h-2zM113 388h1v2h-1zM114 387h1v1h-1zM115 386h2v1h-2zM117 385h1v1h-1zM118 384h6v1h-6zM124 383h3v1h-3zM127 382h2v1h-2zM129 381h2v1h-2zM131 380h1v1h-1zM132 379h2v1h-2zM134 378h1v1h-1zM135 377h1v1h-1zM136 376h1v1h-1zM137 375h2v1h-2zM139 374h2v1h-2zM141 373h5v1h-5zM146 374h2v1h-2zM148 375h2v1h-2zM150 374h2v1h-2zM152 373h1v1h-1zM153 372h3v1h-3zM156 371h2v1h-2zM158 370h1v1h-1zM159 369h1v1h-1zM160 367h1v2h-1zM161 365h1v2h-1zM162 363h1v2h-1zM163 361h1v2h-1zM164 360h1v1h-1zM165 359h1v1h-1zM166 357h1v2h-1zM167 356h2v1h-2zM169 355h2v1h-2zM171 356h2v1h-2zM173 357h8v1h-8zM181 358h2v1h-2zM183 359h2v1h-2zM185 360h2v1h-2zM187 361h5v1h-5zM192 362h1v1h-1zM193 363h1v1h-1zM194 364h1v1h-1zM195 365h2v1h-2zM197 366h1v1h-1zM198 367h1v1h-1zM199 368h1v1h-1zM200 369h1v1h-1zM201 370h2v1h-2zM203 371h2v1h-2zM205 372h1v1h-1zM206 373h1v1h-1zM207 374h1v1h-1zM208 375h2v1h-2zM210 376h3v1h-3zM213 377h1v1h-1zM214 377h1v3h-1zM215 380h1v2h-1zM216 382h1v1h-1zM217 383h2v1h-2zM219 384h2v1h-2zM221 385h1v1h-1zM222 386h2v1h-2zM224 387h1v2h-1zM225 389h1v2h-1zM226 391h1v2h-1zM227 393h1v3h-1zM228 396h1v2h-1zM229 398h1v1h-1zM230 399h2v1h-2zM232 400h2v1h-2zM234 399h2v1h-2zM236 398h2v1h-2zM238 397h2v1h-2zM240 396h8v1h-8zM248 397h2v1h-2zM250 398h2v1h-2zM252 397h2v1h-2zM254 396h2v1h-2zM256 395h2v1h-2zM258 396h4v1h-4zM262 395h4v1h-4zM266 394h2v1h-2zM268 395h2v1h-2zM270 396h1v2h-1zM271 398h1v2h-1zM272 400h1v1h-1zM273 401h1v1h-1zM274 402h2v1h-2zM276 403h2v1h-2zM278 402h2v1h-2zM280 401h4v1h-4zM284 402h2v1h-2zM286 403h3v1h-3zM289 402h4v1h-4zM293 401h3v1h-3zM296 400h2v1h-2zM298 399h2v1h-2zM300 398h1v1h-1zM301 396h1v2h-1zM302 395h2v1h-2zM304 394h3v1h-3zM307 395h2v1h-2zM309 396h1v1h-1zM310 397h1v1h-1zM311 398h1v1h-1zM312 399h1v2h-1zM313 401h1v1h-1zM314 402h1v2h-1zM315 404h1v1h-1zM316 405h1v1h-1zM317 406h1v1h-1zM318 407h1v1h-1zM319 406h1v1h-1zM320 405h1v1h-1zM321 404h10v1h-10zM331 405h2v1h-2zM333 406h2v1h-2zM335 405h2v1h-2zM337 404h1v1h-1zM338 403h1v1h-1zM339 402h1v1h-1zM340 401h2v1h-2zM342 400h1v1h-1zM343 399h2v1h-2zM345 398h1v1h-1zM346 397h1v1h-1zM347 396h1v1h-1zM348 395h1v1h-1zM349 394h1v1h-1zM350 393h1v1h-1zM351 392h1v1h-1zM352 391h2v1h-2zM354 390h2v1h-2zM356 389h1v1h-1zM357 388h2v1h-2zM359 387h2v1h-2zM361 386h2v1h-2zM363 385h2v1h-2zM365 384h2v1h-2zM367 383h2v1h-2zM369 382h1v1h-1zM370 381h3v1h-3zM373 380h2v1h-2zM375 379h1v1h-1zM376 378h1v1h-1zM377 377h1v1h-1zM378 376h1v1h-1zM379 374h1v2h-1zM380 371h1v3h-1zM381 369h1v2h-1zM382 368h1v1h-1zM383 367h1v1h-1zM384 366h1v1h-1zM385 365h1v1h-1zM386 364h1v1h-1zM387 363h3v1h-3zM390 364h2v1h-2zM392 365h1v1h-1zM393 366h1v1h-1zM394 367h2v1h-2zM396 366h2v1h-2zM398 365h15v1h-15zM413 366h8v1h-8zM421 367h2v1h-2zM423 368h1v1h-1zM424 369h1v2h-1zM425 371h1v2h-1zM426 373h1v1h-1zM427 374h1v1h-1zM428 375h1v1h-1zM429 376h1v1h-1zM430 377h1v1h-1zM431 378h1v1h-1zM432 379h1v1h-1zM433 380h1v2h-1zM434 382h2v1h-2zM436 381h2v1h-2zM438 380h2v1h-2zM440 379h2v1h-2zM442 378h2v1h-2zM444 377h1v1h-1zM445 376h1v1h-1zM446 375h1v1h-1zM447 374h1v1h-1zM448 373h1v1h-1zM449 372h3v1h-3zM452 371h3v1h-3zM455 372h1v1h-1zM456 373h3v1h-3zM459 374h3v1h-3zM462 375h2v1h-2zM464 376h2v1h-2zM466 377h1v1h-1zM467 378h1v1h-1zM468 379h1v1h-1zM469 380h2v1h-2zM471 381h6v1h-6zM477 380h2v1h-2zM479 379h3v1h-3zM482 378h7v1h-7zM489 377h7v1h-7zM496 376h2v1h-2zM498 375h1v1h-1zM499 374h1v1h-1zM500 373h1v1h-1zM501 372h1v1h-1zM502 371h1v1h-1zM503 370h1v1h-1zM504 369h2v1h-2zM506 368h1v1h-1zM507 367h2v1h-2zM509 366h2v1h-2zM511 365h4v1h-4zM515 366h5v1h-5zM520 367h15v1h-15zM535 365h1v2h-1zM536 364h1v1h-1zM537 363h1v1h-1zM538 361h1v2h-1zM539 359h1v2h-1zM540 357h1v2h-1zM541 355h1v2h-1zM542 353h1v2h-1zM543 351h1v2h-1zM544 350h1v1h-1zM545 348h1v2h-1zM546 346h1v2h-1zM547 345h1v1h-1zM548 344h2v1h-2zM550 343h1v1h-1zM551 342h1v1h-1zM552 341h1v1h-1zM553 340h13v1h-13zM566 341h2v1h-2zM568 342h1v1h-1zM569 343h2v1h-2zM571 344h2v1h-2zM573 345h2v1h-2zM575 346h2v1h-2zM577 347h1v1h-1zM578 348h2v1h-2zM580 349h1v1h-1zM581 350h1v1h-1zM582 351h1v1h-1zM583 352h1v2h-1zM584 354h1v1h-1zM585 355h1v1h-1zM586 356h1v1h-1zM587 357h1v2h-1zM588 359h1v1h-1zM589 360h1v1h-1zM590 361h1v1h-1zM591 362h1v1h-1zM592 363h3v1h-3zM595 362h2v1h-2zM597 361h2v1h-2zM599 360h3v1h-3zM602 361h2v1h-2zM604 362h2v1h-2zM606 363h1v1h-1zM607 364h1v1h-1zM608 365h2v1h-2zM610 366h3v1h-3zM613 367h8v1h-8zM621 366h2v1h-2zM623 365h1v1h-1zM624 364h10v1h-10zM634 363h1v1h-1zM635 361h1v2h-1zM636 359h1v2h-1zM637 357h1v2h-1zM638 355h1v2h-1zM639 353h1v2h-1zM640 352h1v1h-1zM641 351h1v1h-1zM642 350h1v1h-1zM643 349h2v1h-2zM645 348h3v1h-3z" fill="#0f8c98" shape-rendering="crispEdges"/>
<path d="M60 367h10v1h-10zM70 368h1v1h-1zM71 369h2v1h-2zM73 370h3v1h-3zM76 370h1v2h-1zM77 372h1v2h-1zM78 374h1v2h-1zM79 376h1v1h-1zM80 377h2v1h-2zM82 378h1v1h-1zM83 379h1v1h-1zM84 380h1v1h-1zM85 381h2v1h-2zM87 382h1v1h-1zM88 383h2v1h-2zM90 384h1v1h-1zM91 385h1v1h-1zM92 386h1v1h-1zM93 387h1v1h-1zM94 388h1v1h-1zM95 389h2v1h-2zM97 390h6v1h-6zM103 391h7v1h-7zM110 390h4v1h-4zM114 389h3v1h-3zM117 388h4v1h-4zM121 387h4v1h-4zM125 386h2v1h-2zM127 385h3v1h-3zM130 384h3v1h-3zM133 383h2v1h-2zM135 382h2v1h-2zM137 381h1v1h-1zM138 380h1v1h-1zM139 379h2v1h-2zM141 378h1v1h-1zM142 377h3v1h-3zM145 376h6v1h-6zM151 375h4v1h-4zM155 374h2v1h-2zM157 373h2v1h-2zM159 372h2v1h-2zM161 371h1v1h-1zM162 370h1v1h-1zM163 369h1v1h-1zM164 368h1v1h-1zM165 367h1v1h-1zM166 366h1v1h-1zM167 365h2v1h-2zM169 364h2v1h-2zM171 363h2v1h-2zM173 362h2v1h-2zM175 361h3v1h-3zM178 360h14v1h-14zM192 361h3v1h-3zM195 362h2v1h-2zM197 363h3v1h-3zM200 364h2v1h-2zM202 365h1v1h-1zM203 366h2v1h-2zM205 367h1v1h-1zM206 368h2v1h-2zM208 369h2v1h-2zM210 370h2v1h-2zM212 371h2v1h-2zM214 372h1v1h-1zM215 373h1v2h-1zM216 375h1v1h-1zM217 376h1v1h-1zM218 377h2v1h-2zM220 378h1v1h-1zM221 379h1v1h-1zM222 380h1v1h-1zM223 381h2v1h-2zM225 382h1v1h-1zM226 383h1v1h-1zM227 384h1v1h-1zM228 385h1v1h-1zM229 386h1v1h-1zM230 387h1v1h-1zM231 388h1v1h-1zM232 389h1v1h-1zM233 390h2v1h-2zM235 391h2v1h-2zM237 392h3v1h-3zM240 393h2v1h-2zM242 394h3v1h-3zM245 395h6v1h-6zM251 396h12v1h-12zM263 395h7v1h-7zM270 396h2v1h-2zM272 397h2v1h-2zM274 398h2v1h-2zM276 399h4v1h-4zM280 400h5v1h-5zM285 401h15v1h-15zM300 400h2v1h-2zM302 399h3v1h-3zM305 398h9v1h-9zM314 399h2v1h-2zM316 400h2v1h-2zM318 401h2v1h-2zM320 402h3v1h-3zM323 403h10v1h-10zM333 404h5v1h-5zM338 403h4v1h-4zM342 402h4v1h-4zM346 401h2v1h-2zM348 400h1v1h-1zM349 399h2v1h-2zM351 398h1v1h-1zM352 397h2v1h-2zM354 396h2v1h-2zM356 395h1v1h-1zM357 394h2v1h-2zM359 393h1v1h-1zM360 392h2v1h-2zM362 391h2v1h-2zM364 390h2v1h-2zM366 389h2v1h-2zM368 388h1v1h-1zM369 387h3v1h-3zM372 386h3v1h-3zM375 385h1v1h-1zM376 384h1v1h-1zM377 383h1v1h-1zM378 382h1v1h-1zM379 381h1v1h-1zM380 380h1v1h-1zM381 379h2v1h-2zM383 378h1v1h-1zM384 377h1v1h-1zM385 375h1v2h-1zM386 374h1v1h-1zM387 373h1v1h-1zM388 372h2v1h-2zM390 371h1v1h-1zM391 370h2v1h-2zM393 369h2v1h-2zM395 368h8v1h-8zM403 367h6v1h-6zM409 366h13v1h-13zM422 367h3v1h-3zM425 368h2v1h-2zM427 369h1v1h-1zM428 370h2v1h-2zM430 371h1v1h-1zM431 372h1v1h-1zM432 373h1v1h-1zM433 374h1v1h-1zM434 375h3v1h-3zM437 376h4v1h-4zM441 377h4v1h-4zM445 376h4v1h-4zM449 375h3v1h-3zM452 374h2v1h-2zM454 373h3v1h-3zM457 374h5v1h-5zM462 375h4v1h-4zM466 376h2v1h-2zM468 377h4v1h-4zM472 378h11v1h-11zM483 379h9v1h-9zM492 378h5v1h-5zM497 377h4v1h-4zM501 376h2v1h-2zM503 375h1v1h-1zM504 374h2v1h-2zM506 373h1v1h-1zM507 372h2v1h-2zM509 371h2v1h-2zM511 370h2v1h-2zM513 369h2v1h-2zM515 368h18v1h-18zM533 367h3v1h-3zM536 366h2v1h-2zM538 365h2v1h-2zM540 364h1v1h-1zM541 363h2v1h-2zM543 362h1v1h-1zM544 361h1v1h-1zM545 359h1v2h-1zM546 357h1v2h-1zM547 356h1v1h-1zM548 355h2v1h-2zM550 354h1v1h-1zM551 353h1v1h-1zM552 351h1v2h-1zM553 350h1v1h-1zM554 349h1v1h-1zM555 348h2v1h-2zM557 347h1v1h-1zM558 346h1v1h-1zM559 345h2v1h-2zM561 344h3v1h-3zM564 343h13v1h-13zM577 344h2v1h-2zM579 345h2v1h-2zM581 346h2v1h-2zM583 347h2v1h-2zM585 348h1v1h-1zM586 349h1v1h-1zM587 350h1v1h-1zM588 351h1v1h-1zM589 352h1v1h-1zM590 353h1v1h-1zM591 354h1v1h-1zM592 355h2v1h-2zM594 356h2v1h-2zM596 357h4v1h-4zM600 358h4v1h-4zM604 359h2v1h-2zM606 360h2v1h-2zM608 361h1v1h-1zM609 362h2v1h-2zM611 363h2v1h-2zM613 364h3v1h-3zM616 365h4v1h-4zM620 366h5v1h-5zM625 365h9v1h-9zM634 364h2v1h-2zM636 363h1v1h-1zM637 362h1v1h-1zM638 361h1v1h-1zM639 360h1v1h-1zM640 359h1v1h-1zM641 358h2v1h-2zM643 357h1v1h-1zM644 356h2v1h-2zM646 355h2v1h-2z" fill="#8c1010" shape-rendering="crispEdges"/>
<polygon points="182.3,184.8 243.3,216.8 245.3,214.6 255.8,228.7 237.1,226.6 239.6,223.8 181.7,186.2" fill="#ff3238"/>
<polygon points="192.8,286.6 251.6,260.7 249.2,257.2 268,259.2 255.3,271.7 253.7,268.2 192.6,288" fill="#ff3238"/>
<text x="52.5" y="50" fill="#cc1a2e" font-size="12px" font-family='"Liberation Sans", sans-serif' text-anchor="end">10.42</text>
<text x="52.5" y="75" fill="#cc1a2e" font-size="12px" font-family='"Liberation Sans", sans-serif' text-anchor="end">10.28</text>
<text x="52.5" y="101" fill="#cc1a2e" font-size="12px" font-family='"Liberation Sans", sans-serif' text-anchor="end">10.14</text>
<text x="52.5" y="126" fill="#cc1a2e" font-size="12px" font-family='"Liberation Sans", sans-serif' text-anchor="end">10.00</text>
<text x="52.5" y="152" fill="#111" font-size="12px" font-family='"Liberation Sans", sans-serif' text-anchor="end">9.85</text>
<text x="52.5" y="177" fill="#1f9a14" font-size="12px" font-family='"Liberation Sans", sans-serif' text-anchor="end">9.71</text>
<text x="52.5" y="203" fill="#1f9a14" font-size="12px" font-family='"Liberation Sans", sans-serif' text-anchor="end">9.57</text>
<text x="52.5" y="228" fill="#1f9a14" font-size="12px" font-family='"Liberation Sans", sans-serif' text-anchor="end">9.43</text>
<text x="52.5" y="254" fill="#1f9a14" font-size="12px" font-family='"Liberation Sans", sans-serif' text-anchor="end">9.28</text>
<text x="52.5" y="289" fill="#1c7ea4" font-size="12px" font-family='"Liberation Sans", sans-serif' text-anchor="end">4403</text>
<text x="52.5" y="345" fill="#c01430" font-size="12px" font-family='"Liberation Sans", sans-serif' text-anchor="end">+0.031</text>
<text x="52.5" y="379" fill="#1f9a14" font-size="12px" font-family='"Liberation Sans", sans-serif' text-anchor="end">-0.007</text>
<text x="650.5" y="50" fill="#cc1a2e" font-size="12px" font-family='"Liberation Sans", sans-serif' text-anchor="start">5.79%</text>
<text x="650.5" y="75" fill="#cc1a2e" font-size="12px" font-family='"Liberation Sans", sans-serif' text-anchor="start">4.37%</text>
<text x="650.5" y="101" fill="#cc1a2e" font-size="12px" font-family='"Liberation Sans", sans-serif' text-anchor="start">2.89%</text>
<text x="650.5" y="126" fill="#cc1a2e" font-size="12px" font-family='"Liberation Sans", sans-serif' text-anchor="start">1.48%</text>
<text x="650.5" y="152" fill="#111" font-size="12px" font-family='"Liberation Sans", sans-serif' text-anchor="start">0.00%</text>
<text x="650.5" y="177" fill="#1f9a14" font-size="12px" font-family='"Liberation Sans", sans-serif' text-anchor="start">1.42%</text>
<text x="650.5" y="203" fill="#1f9a14" font-size="12px" font-family='"Liberation Sans", sans-serif' text-anchor="start">2.89%</text>
<text x="650.5" y="228" fill="#1f9a14" font-size="12px" font-family='"Liberation Sans", sans-serif' text-anchor="start">4.31%</text>
<text x="650.5" y="254" fill="#1f9a14" font-size="12px" font-family='"Liberation Sans", sans-serif' text-anchor="start">5.79%</text>
<text x="348.5" y="422" fill="#111" font-size="12px" font-family='"Liberation Sans", sans-serif' text-anchor="end">11:30</text>
<text x="646.5" y="422" fill="#111" font-size="12px" font-family='"Liberation Sans", sans-serif' text-anchor="end">15:00</text>
<g shape-rendering="crispEdges">
<rect x="24" y="409" width="1" height="17" fill="#555"/>
<rect x="91" y="409" width="1" height="17" fill="#555"/>
<rect x="24" y="425" width="68" height="1" fill="#555"/>
</g>
<text x="26.5" y="422" fill="#111" font-size="12px" font-family='"Liberation Sans", sans-serif' text-anchor="start">07-14 09:44</text>
<text x="55" y="39" fill="#a8690c" font-size="12px" font-family='"Liberation Sans", "Noto Sans CJK SC", sans-serif' text-anchor="start">分时</text>
<text x="83" y="39" fill="#a8690c" font-size="12px" font-family='"Liberation Sans", "Noto Sans CJK SC", sans-serif' text-anchor="start">均价</text>
<text x="106.5" y="39.5" fill="#b27218" font-size="12px" font-family='"Liberation Sans", sans-serif' text-anchor="start">:</text>
<text x="113" y="39.5" fill="#b27218" font-size="12px" font-family='"Liberation Sans", sans-serif' text-anchor="start">9.73</text>
<text x="141" y="39" fill="#0f8088" font-size="12px" font-family='"Liberation Sans", "Noto Sans CJK SC", sans-serif' text-anchor="start">最新</text>
<text x="165" y="39.5" fill="#1c7ea4" font-size="12px" font-family='"Liberation Sans", sans-serif' text-anchor="start">:</text>
<text x="171.5" y="39.5" fill="#1c7ea4" font-size="12px" font-family='"Liberation Sans", sans-serif' text-anchor="start">9.66</text>
<text x="55.2" y="333.6" fill="#1c7ea4" font-size="12px" font-family='"Liberation Sans", sans-serif' text-anchor="start" letter-spacing="-0.045">MACDFS(12,26,9) DIFF: -0.033</text>
<text x="241.5" y="333.6" fill="#8e1220" font-size="12px" font-family='"Liberation Sans", sans-serif' text-anchor="start" letter-spacing="-0.09">DEA: -0.022</text>
<text x="323" y="333.6" fill="#1c9a1c" font-size="12px" font-family='"Liberation Sans", sans-serif' text-anchor="start" letter-spacing="-0.12">MACDFS: -0.021</text>
<path d="M229 324h2v6h2v1h-1v1h-1v3h-2v-3h-1v-1h-1v-1h2z" fill="#3ceefa" shape-rendering="crispEdges"/>
<path d="M311 324h2v6h2v1h-1v1h-1v3h-2v-3h-1v-1h-1v-1h2z" fill="#3ceefa" shape-rendering="crispEdges"/>
<path d="M418 324h2v6h2v1h-1v1h-1v3h-2v-3h-1v-1h-1v-1h2z" fill="#3ceefa" shape-rendering="crispEdges"/>
<text x="164" y="117.5" fill="#000" font-size="16px" font-family='"Liberation Sans", "Noto Sans CJK SC", sans-serif' text-anchor="start">放量下跌分时走势</text>
<g shape-rendering="crispEdges">
<rect x="571" y="25" width="77" height="21" fill="#ffffff"/>
<rect x="571" y="25" width="1" height="21" fill="#222"/>
<rect x="629" y="25" width="1" height="21" fill="#222"/>
<rect x="571" y="44" width="78" height="2" fill="#222"/>
<rect x="633" y="29" width="2" height="11" fill="#333"/>
</g>
<text x="578" y="40" fill="#111" font-size="12px" font-family='"Liberation Sans", "Noto Sans CJK SC", sans-serif' text-anchor="start">历史重现</text>
<path d="M635.8 34.5L641 29.3V32H645V37H641V39.7Z" fill="#333"/>
<text x="21.5" y="16.2" fill="#fff" font-size="13px" font-weight="bold" letter-spacing="1" font-family='"Liberation Sans", "Noto Sans CJK SC", sans-serif' text-anchor="start">新华联</text>
<text x="223.5" y="16.2" fill="#fff" font-size="13px" font-weight="bold" letter-spacing="1" font-family='"Liberation Sans", "Noto Sans CJK SC", sans-serif' text-anchor="start">星期四</text>
<text transform="translate(65.5,16.2) scale(1.1,1)" x="0" y="0" fill="#fff" stroke="#fff" stroke-width="0.25" font-size="13px" font-weight="bold" font-family='"Liberation Serif", serif'>(</text>
<text transform="translate(71.3,16.2) scale(1.23,1)" x="0" y="0" fill="#fff" stroke="#fff" stroke-width="0.25" font-size="13px" font-weight="bold" font-family='"Liberation Serif", serif'>000620</text>
<text transform="translate(119.5,16.2) scale(1.1,1)" x="0" y="0" fill="#fff" stroke="#fff" stroke-width="0.25" font-size="13px" font-weight="bold" font-family='"Liberation Serif", serif'>)</text>
<text transform="translate(135.3,16.2) scale(1.23,1)" x="0" y="0" fill="#fff" stroke="#fff" stroke-width="0.25" font-size="13px" font-weight="bold" font-family='"Liberation Serif", serif'>2011</text>
<rect x="168" y="11" width="6.3" height="2" fill="#fff"/>
<text transform="translate(175.3,16.2) scale(1.23,1)" x="0" y="0" fill="#fff" stroke="#fff" stroke-width="0.25" font-size="13px" font-weight="bold" font-family='"Liberation Serif", serif'>07</text>
<rect x="192" y="11" width="6.3" height="2" fill="#fff"/>
<text transform="translate(199.3,16.2) scale(1.23,1)" x="0" y="0" fill="#fff" stroke="#fff" stroke-width="0.25" font-size="13px" font-weight="bold" font-family='"Liberation Serif", serif'>14</text>
<g shape-rendering="crispEdges"><rect x="1" y="4" width="14" height="2" fill="#1f6fe2"/><rect x="1" y="4" width="14" height="1" fill="#3a82ea"/><rect x="1" y="6" width="14" height="10" fill="#fffffa"/><rect x="15" y="5" width="1" height="12" fill="#0c3eb6"/><rect x="2" y="16" width="14" height="1" fill="#0a36a4"/><rect x="11" y="5" width="2" height="1" fill="#6aa6f2"/><rect x="14" y="5" width="1" height="1" fill="#f0642a"/></g>
<rect x="624.5" y="1.5" width="20" height="20" rx="3" ry="3" fill="url(#gb)" stroke="#fff" stroke-width="1"/>
<rect x="629" y="14" width="7" height="3" fill="#fff"/>
<rect x="647.5" y="1.5" width="20" height="20" rx="3" ry="3" fill="url(#gb)" stroke="#fff" stroke-width="1"/>
<rect x="652.5" y="6.5" width="10" height="10" fill="none" stroke="#fff" stroke-width="1"/><rect x="652" y="6" width="11" height="3" fill="#fff"/>
<rect x="670.5" y="1.5" width="20" height="20" rx="3" ry="3" fill="url(#gc)" stroke="#fff" stroke-width="1"/>
<path d="M675.5 6.5l10 10M685.5 6.5l-10 10" stroke="#fff" stroke-width="2.3" fill="none"/>
</svg>
</body></html>
